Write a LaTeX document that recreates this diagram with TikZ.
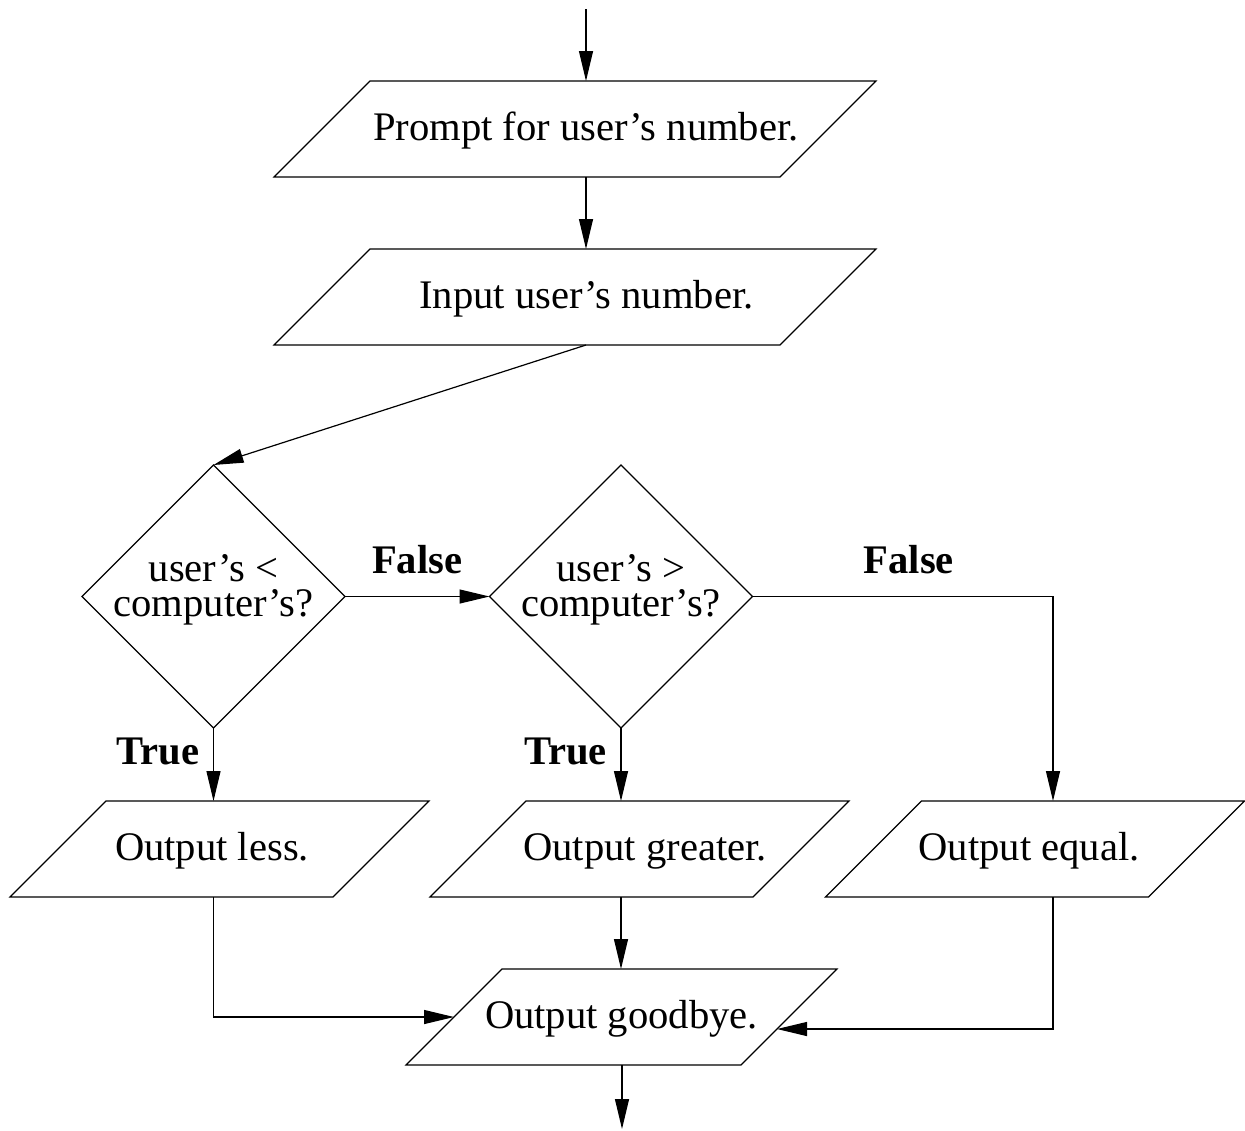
\documentclass[tikz,border=0pt]{standalone}
\usepackage{fontspec}
\setmainfont{Liberation Serif}
\usetikzlibrary{shapes.geometric,arrows.meta,calc}

% two centred lines of text, placed about the centre of a decision node
\newcommand\twoline[2]{\smash{\makebox[0pt]{\raisebox{7.4pt}{#1}}\makebox[0pt]{\raisebox{-9.75pt}{#2}}}}
% text set off sideways from the centre of its box by half of #1
\newcommand\offset[2]{\makebox[0pt]{\hspace{#1}#2}}

\begin{document}
\begin{tikzpicture}[x=0.5pt,y=-0.5pt,
  font=\fontsize{20.3}{24}\selectfont,
  line width=0.6pt,
  iobox/.style={rectangle, minimum width=#1, minimum height=48pt,
    text height=15pt, text depth=3.5pt, inner sep=0pt, outer sep=0pt},
  decision/.style={draw, diamond, minimum width=131.5pt, minimum height=131.5pt,
    inner sep=0pt, outer sep=0pt},
  flow/.style={-{Triangle[length=15pt,width=7pt]}},
  lbl/.style={font=\fontsize{20.3}{24}\selectfont\bfseries, inner sep=0pt}]

\useasboundingbox (0,0) rectangle (1245,1130);

% input / output boxes and decisions
\node[iobox=301pt] (ask) at (575,129) {\offset{11pt}{Prompt for user's number.}};
\node[iobox=301pt] (read) at (575,297) {\offset{11.5pt}{Input user's number.}};
\node[decision] (lt) at (213.5,596.5) {\twoline{user's <}{computer's?}};
\node[decision] (gt) at (621,596.5) {\twoline{user's >}{computer's?}};
\node[iobox=209.5pt] (less) at (219.5,849) {\offset{-7.5pt}{Output less.}};
\node[iobox=209.5pt] (greater) at (639.5,849) {\offset{5.5pt}{Output greater.}};
\node[iobox=209.5pt] (equal) at (1035,849) {\offset{-6pt}{Output equal.}};
\node[iobox=215.5pt] (bye) at (621.5,1017) {Output goodbye.};

% parallelogram outlines of the input / output boxes, leaning right
\foreach \n in {ask,read,less,greater,equal,bye}
  \draw ([xshift=48pt]\n.north west) -- (\n.north east)
    -- ([xshift=-48pt]\n.south east) -- (\n.south west) -- cycle;

% free ends of the flow
\coordinate (start) at (586,9);
\coordinate (stop) at (622,1129);
\coordinate (eqin) at ([xshift=9pt]equal.north);

% connectors
\draw[flow] (start) -- (start |- ask.north);
\draw[flow] (start |- ask.south) -- (start |- read.north);
\draw[flow] (start |- read.south) -- (lt.north);
\draw[flow] (lt.east) -- node[lbl, yshift=18.6pt] {False} (gt.west);
\draw[flow] (gt.east) -- node[lbl, pos=0.52, yshift=18.6pt] {False} (gt.east -| eqin) -- (eqin);
\draw[flow] (lt.south) -- node[lbl, pos=0.315, left=6.75pt] {True} (lt.south |- less.north);
\draw[flow] (gt.south) -- node[lbl, pos=0.315, left=6.75pt] {True} (gt.south |- greater.north);
\draw[flow] (gt.south |- greater.south) -- (gt.south |- bye.north);
\draw[flow] (lt.south |- less.south) |- ([xshift=24pt]bye.west);
\draw[flow] (eqin |- equal.south) |- ([xshift=-30pt,yshift=-6pt]bye.east);
\draw[flow] (stop |- bye.south) -- (stop);
\end{tikzpicture}
\end{document}
